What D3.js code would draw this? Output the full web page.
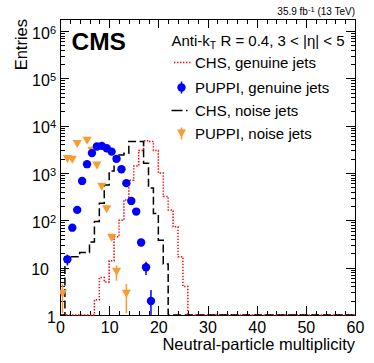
<!DOCTYPE html>
<html lang="en">
<head>
<meta charset="UTF-8">
<title>Neutral-particle multiplicity</title>
<script src="https://cdnjs.cloudflare.com/ajax/libs/d3/7.9.0/d3.min.js"></script>
<style>
  body{margin:0;background:#fff;}
  svg{display:block;font-family:"Liberation Sans",Arial,Helvetica,sans-serif;}
  .axis path,.axis line{stroke:#000;stroke-width:1;shape-rendering:crispEdges;}
  .axis text{font-size:16px;fill:#000;}
</style>
</head>
<body>
<div id="chart"></div>
<script>
/* ---------- data (bins of width 1, starting at 0) ---------- */
const chsGenuine = [0,0,0,0,0,0,0,2.1,6.2,5.0,14,45,100,270,700,1400,3000,4800,4600,3000,
                    1000,320,165,73,17,4,0,0,0,0,0,0,0,0,0,0,0,0,0,0,
                    0,0,0,0,0,0,0,0,0,0,0,0,0,0,0,0,0,0,0,0];
const chsNoise   = [0,17,17,17,21,21,35,95,230,560,1100,2200,2400,2600,4600,4600,4600,1600,480,140,
                    38,12,0,0,0,0,0,0,0,0,0,0,0,0,0,0,0,0,0,0,
                    0,0,0,0,0,0,0,0,0,0,0,0,0,0,0,0,0,0,0,0];
const puppiGenuineBins = [1,2,3,4,5,6,7,8,9,10,11,12,13,14,15,16,17,18];
const puppiGenuine     = [15,70,166,680,1535,2630,3630,3740,3320,2830,1990,1200,610,257,153,34,10.2,1.98];
const puppiGenuineErr  = [3.9,8.4,13,26,39,51,60,61,58,53,45,35,25,16,12,5.8,3.2,1.4];
const puppiNoiseBins = [0,1,2,3,5,6,7,8,9,10,11,13];
const puppiNoise     = [2.8,1980,1900,4120,4780,2960,1435,515,172,43,8.2,2.8];
const puppiNoiseErr  = [1.7,44,44,64,69,54,38,23,13,6.6,2.9,1.7];

const xTicks = [0,10,20,30,40,50,60];
const yTicks = [1,10,100,1e3,1e4,1e5,1e6];
const legendLabels = ["CHS, genuine jets","PUPPI, genuine jets","CHS, noise jets","PUPPI, noise jets"];

/* ---------- layout ---------- */
const W = 374, H = 363;
const L = 60, R = 355, T = 19, B = 315;
const red = "#ff0000", blue = "#0000ff", orange = "#fa9a32";

const svg = d3.select("#chart").append("svg").attr("width",W).attr("height",H);

const x = d3.scaleLinear().domain([0,60]).range([L,R]);
const y = d3.scaleLog().domain([1,1.79e6]).range([B,T]);
const yv = v => y(Math.max(v,1));

/* ---------- axes (ROOT style: ticks inside, mirrored) ---------- */
function yLabel(sel){
  sel.selectAll(".tick text").each(function(d){
    const t = d3.select(this).text("");
    const e = Math.round(Math.log10(d));
    if(e===0){ t.text("1"); }
    else if(e===1){ t.attr("x",-11).text("10"); }
    else {
      t.append("tspan").text("10");
      t.append("tspan").attr("dy","-0.45em").attr("font-size","11px").text(e);
    }
  });
}

svg.append("g").attr("class","axis").attr("transform",`translate(0,${B})`)
  .call(d3.axisBottom(x).tickValues(x.ticks(30)).tickSize(-4.5).tickFormat(""));
svg.append("g").attr("class","axis").attr("transform",`translate(0,${B})`)
  .call(d3.axisBottom(x).tickValues(xTicks).tickSize(-9).tickPadding(7).tickFormat(d3.format("d")));
svg.append("g").attr("class","axis").attr("transform",`translate(0,${T})`)
  .call(d3.axisTop(x).tickValues(x.ticks(30)).tickSize(-4.5).tickFormat(""));
svg.append("g").attr("class","axis").attr("transform",`translate(0,${T})`)
  .call(d3.axisTop(x).tickValues(xTicks).tickSize(-9).tickFormat(""));

svg.append("g").attr("class","axis").attr("transform",`translate(${L},0)`)
  .call(d3.axisLeft(y).tickValues(y.ticks()).tickSize(-4.5).tickFormat(""));
svg.append("g").attr("class","axis").attr("transform",`translate(${L},0)`)
  .call(d3.axisLeft(y).tickValues(yTicks).tickSize(-9).tickPadding(4))
  .call(g=>g.selectAll(".tick text").attr("dy","0.45em"))
  .call(yLabel);
svg.append("g").attr("class","axis").attr("transform",`translate(${R},0)`)
  .call(d3.axisRight(y).tickValues(y.ticks()).tickSize(-4.5).tickFormat(""));
svg.append("g").attr("class","axis").attr("transform",`translate(${R},0)`)
  .call(d3.axisRight(y).tickValues(yTicks).tickSize(-9).tickFormat(""));

/* ---------- data ---------- */
svg.append("clipPath").attr("id","clip").append("rect")
  .attr("x",L).attr("y",T).attr("width",R-L).attr("height",B-T+1);
const plot = svg.append("g").attr("clip-path","url(#clip)");

const step = d3.line().x(d=>x(d[0])).y(d=>yv(d[1])).curve(d3.curveStepAfter);
const toSteps = arr => arr.map((v,i)=>[i,v]).concat([[arr.length,arr[arr.length-1]]]);

plot.append("path").attr("d",step(toSteps(chsGenuine)))
  .attr("fill","none").attr("stroke",red).attr("stroke-width",1.5).attr("stroke-dasharray","1.4,1.6");
plot.append("path").attr("d",step(toSteps(chsNoise)))
  .attr("fill","none").attr("stroke","#000").attr("stroke-width",1.5).attr("stroke-dasharray","8,3.5");

const tri = "M-4.6,-4L4.6,-4L0,4Z";

// PUPPI noise jets (orange triangles)
puppiNoiseBins.forEach((b,i)=>{
  const cx = x(b+0.5), v = puppiNoise[i], e = puppiNoiseErr[i];
  plot.append("line").attr("x1",cx).attr("x2",cx)
    .attr("y1",yv(v+e)).attr("y2",yv(v-e))
    .attr("stroke",orange).attr("stroke-width",1.5);
  plot.append("path").attr("d",tri).attr("transform",`translate(${cx},${yv(v)})`).attr("fill",orange);
});

// PUPPI genuine jets (blue dots)
puppiGenuineBins.forEach((b,i)=>{
  const cx = x(b+0.5), v = puppiGenuine[i], e = puppiGenuineErr[i];
  plot.append("line").attr("x1",cx).attr("x2",cx)
    .attr("y1",yv(v+e)).attr("y2",yv(v-e))
    .attr("stroke",blue).attr("stroke-width",1.5);
  plot.append("circle").attr("cx",cx).attr("cy",yv(v)).attr("r",4.2).attr("fill",blue);
});

/* ---------- texts ---------- */
svg.append("text").attr("x",R).attr("y",15).attr("text-anchor","end").attr("font-size","10px")
  .call(t=>{
    t.append("tspan").text("35.9 fb");
    t.append("tspan").attr("dy","-3.5").attr("font-size","7.5px").text("-1");
    t.append("tspan").attr("dy","3.5").text(" (13 TeV)");
  });
svg.append("text").attr("x",71.5).attr("y",50).attr("font-size","24.5px").attr("font-weight","bold").text("CMS");

svg.append("text").attr("x",R).attr("y",350).attr("text-anchor","end").attr("font-size","16.5px")
  .text("Neutral-particle multiplicity");
svg.append("text").attr("transform","translate(27,19) rotate(-90)").attr("text-anchor","end")
  .attr("font-size","16.5px").text("Entries");

svg.append("text").attr("x",171.5).attr("y",46).attr("font-size","15px")
  .call(t=>{
    t.append("tspan").text("Anti-k");
    t.append("tspan").attr("dy","3").attr("font-size","10.5px").text("T");
    t.append("tspan").attr("dy","-3").text(" R = 0.4, 3 < |η| < 5");
  });

/* ---------- legend ---------- */
const legY = [62.5,87.5,110.5,133.5];
const leg = svg.append("g");
legendLabels.forEach((lab,i)=>{
  leg.append("text").attr("x",195).attr("y",legY[i]+5).attr("font-size","15px").text(lab);
});
leg.append("line").attr("x1",174).attr("x2",191).attr("y1",legY[0]).attr("y2",legY[0])
  .attr("stroke",red).attr("stroke-width",1.5).attr("stroke-dasharray","1.4,1.6");
leg.append("line").attr("x1",181.5).attr("x2",181.5).attr("y1",legY[1]-6).attr("y2",legY[1]+6)
  .attr("stroke",blue).attr("stroke-width",1.5);
leg.append("circle").attr("cx",181.5).attr("cy",legY[1]).attr("r",4.2).attr("fill",blue);
leg.append("line").attr("x1",171.5).attr("x2",189).attr("y1",legY[2]).attr("y2",legY[2])
  .attr("stroke","#000").attr("stroke-width",1.5).attr("stroke-dasharray","11,3.5,1.5,3.5");
leg.append("line").attr("x1",181.5).attr("x2",181.5).attr("y1",legY[3]-6).attr("y2",legY[3]+6)
  .attr("stroke",orange).attr("stroke-width",1.5);
leg.append("path").attr("d",tri).attr("transform",`translate(181.5,${legY[3]})`).attr("fill",orange);
</script>
</body>
</html>
